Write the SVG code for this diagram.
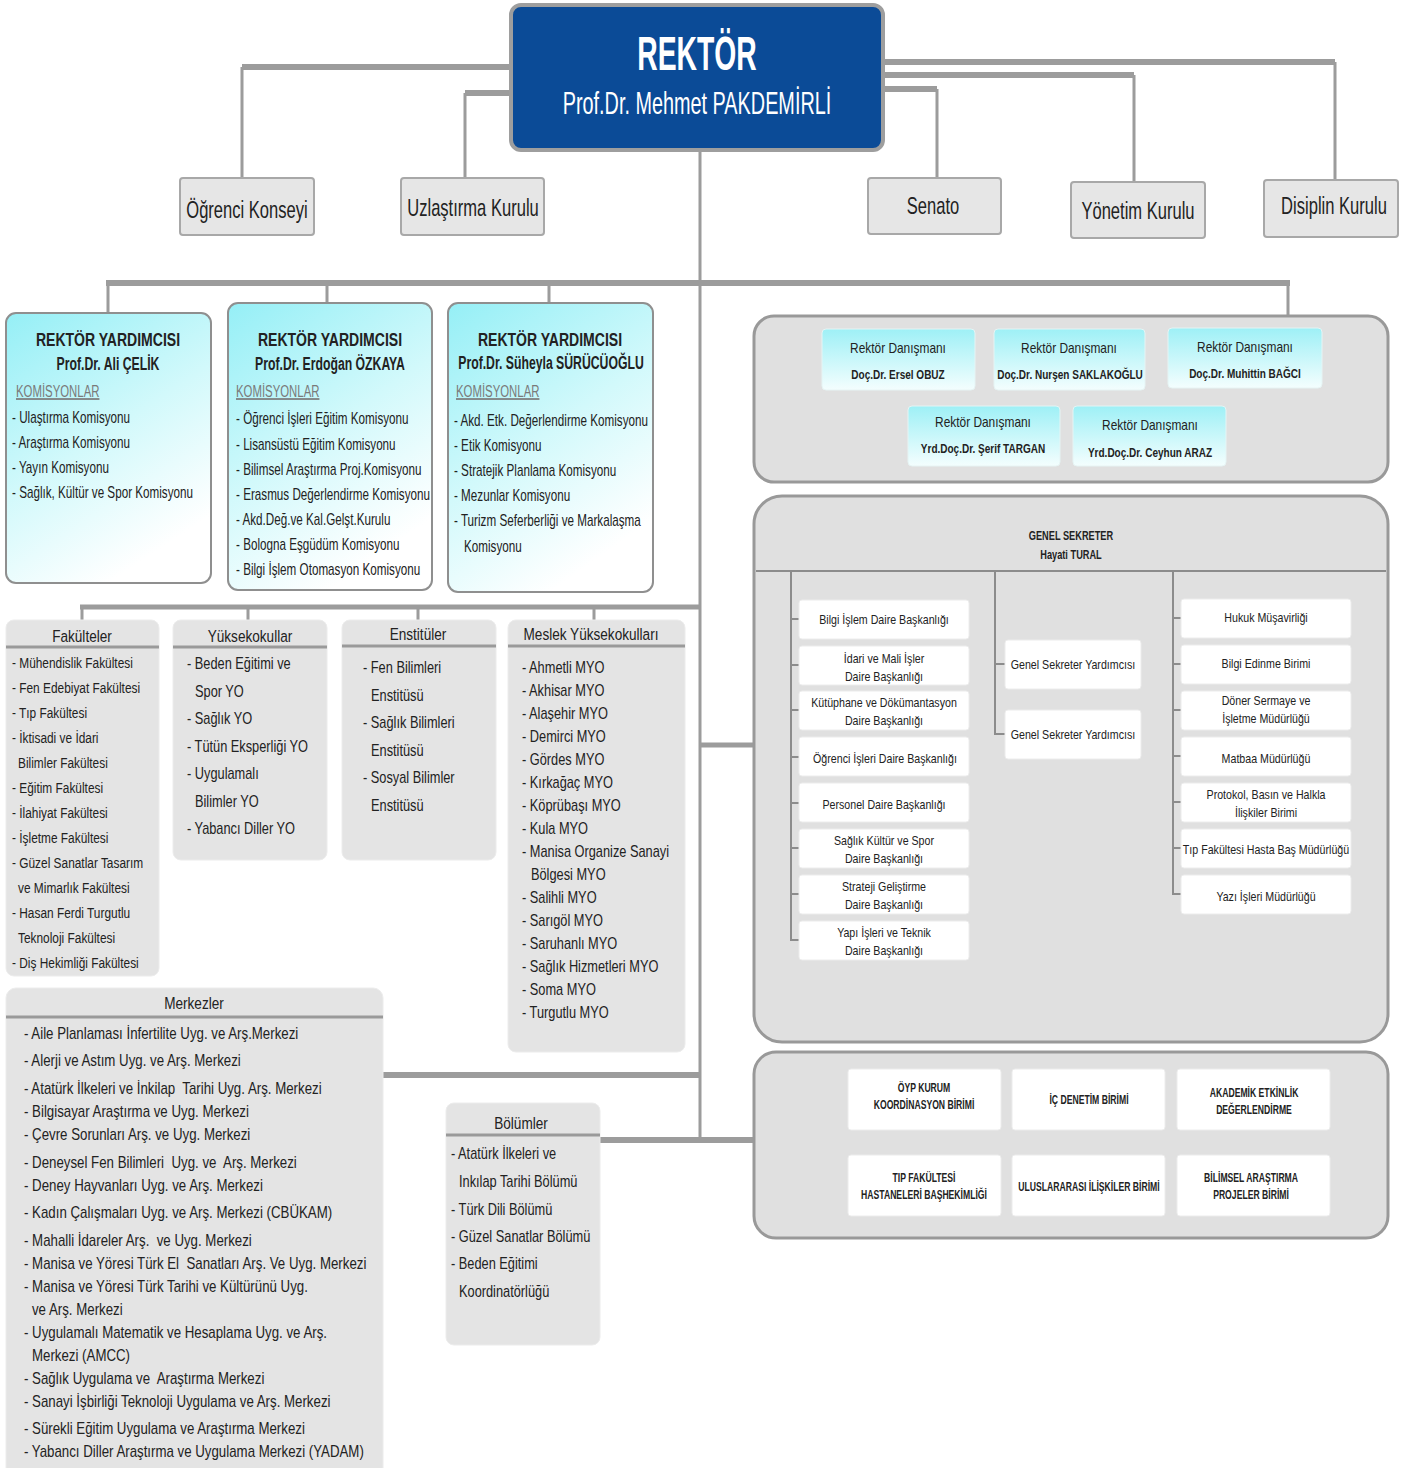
<svg xmlns="http://www.w3.org/2000/svg" width="1414" height="1468" viewBox="0 0 1414 1468">
<defs>
<linearGradient id="cy" x1="0" y1="0" x2="0.5" y2="1">
<stop offset="0" stop-color="#95eff6"/>
<stop offset="0.55" stop-color="#d2f9fb"/>
<stop offset="1" stop-color="#ffffff"/>
</linearGradient>
<linearGradient id="cy2" x1="0" y1="0" x2="0" y2="1">
<stop offset="0" stop-color="#9ef0f6"/>
<stop offset="1" stop-color="#f4fefe"/>
</linearGradient>
<style>
text{font-family:'Liberation Sans',Arial,sans-serif;fill:#222}
.s{transform-box:fill-box;transform-origin:left center}
.m{text-anchor:middle;transform-box:fill-box;transform-origin:center}
.rk{font-size:48px;font-weight:bold;fill:#fff;transform:scaleX(.59)}
.rn{font-size:32px;fill:#fff;transform:scaleX(.62)}
.l2{font-size:24px;transform:scaleX(.69)}
.vt{font-size:18px;font-weight:bold;transform:scaleX(.78)}
.vn{font-size:18px;font-weight:bold;transform:scaleX(.68)}
.vk{font-size:17px;fill:#7a7a7a;text-decoration:underline;transform:scaleX(.67)}
.vi{font-size:16px;transform:scaleX(.73)}
.ad{font-size:14px;transform:scaleX(.85)}
.an{font-size:13px;font-weight:bold;transform:scaleX(.77)}
.gh{font-size:13px;font-weight:bold;transform:scaleX(.71)}
.gc{font-size:13px;transform:scaleX(.82)}
.bc{font-size:12px;font-weight:bold;transform:scaleX(.72)}
.lh{font-size:17px;transform:scaleX(.8)}
.li{font-size:16px;transform:scaleX(.8)}
.lf{font-size:14.5px;transform:scaleX(.82)}
.lm{font-size:16px;transform:scaleX(.83)}
.pre{white-space:pre}
.cn{stroke:#9c9c9c;fill:none}
.box2{fill:#e6e6e6;stroke:#a8a8a8;stroke-width:2}
.vr{fill:url(#cy);stroke:#8f8f8f;stroke-width:2}
.cont{fill:#e0e0e0;stroke:#999;stroke-width:3}
.adv{fill:url(#cy2);stroke:#e6f4f4;stroke-width:1}
.card{fill:#fff;stroke:#ececec;stroke-width:1}
.lst{fill:#e4e4e4;stroke:#ececec;stroke-width:1}
.div{stroke:#9a9a9a;stroke-width:3}
.gl{stroke:#8c8c8c;stroke-width:2;fill:none}
</style>
</defs>
<rect width="1414" height="1468" fill="#fff"/>

<g id="connectors">
<path class="cn" stroke-width="6" d="M512,67 H242 M512,93 H465 M882,62 H1335 M882,75 H1134 M882,89 H937"/>
<path class="cn" stroke-width="3" d="M242,67 V178 M465,93 V178 M1335,62 V180 M1134,75 V182 M937,89 V178"/>
<path class="cn" stroke-width="3" d="M700,150 V1143"/>
<path class="cn" stroke-width="6" d="M106,283 H1290"/>
<path class="cn" stroke-width="3" d="M108,283 V313 M327,283 V303 M549,283 V303 M1288,283 V316"/>
<path class="cn" stroke-width="5" d="M80,607 H701"/>
<path class="cn" stroke-width="3" d="M82,607 V620 M248,607 V620 M418,607 V620 M594,607 V620"/>
<path class="cn" stroke-width="5" d="M700,745 H755"/>
<path class="cn" stroke-width="6" d="M383,1075 H701"/>
<path class="cn" stroke-width="6" d="M600,1140 H755"/>
</g>

<g id="rektor">
<rect x="511" y="5" width="372" height="145" rx="10" fill="#0b4b97" stroke="#9e9e9e" stroke-width="4"/>
<text class="m rk" x="697" y="70">REKTÖR</text>
<text class="m rn" x="697" y="114">Prof.Dr. Mehmet PAKDEMİRLİ</text>
</g>

<g id="ogrenci-konseyi">
<rect class="box2" x="180" y="178" width="134" height="57" rx="3"/>
<text class="m l2" x="247" y="218">Öğrenci Konseyi</text>
</g>
<g id="uzlastirma-kurulu">
<rect class="box2" x="401" y="178" width="143" height="57" rx="3"/>
<text class="m l2" x="473" y="216">Uzlaştırma Kurulu</text>
</g>
<g id="senato">
<rect class="box2" x="868" y="178" width="133" height="56" rx="3"/>
<text class="m l2" x="933" y="214">Senato</text>
</g>
<g id="yonetim-kurulu">
<rect class="box2" x="1071" y="182" width="134" height="56" rx="3"/>
<text class="m l2" x="1138" y="219">Yönetim Kurulu</text>
</g>
<g id="disiplin-kurulu">
<rect class="box2" x="1264" y="180" width="134" height="57" rx="3"/>
<text class="m l2" x="1334" y="214">Disiplin Kurulu</text>
</g>

<g id="rektor-yardimcisi-1">
<rect class="vr" x="6" y="313" width="205" height="270" rx="10"/>
<text class="m vt" x="108" y="346">REKTÖR YARDIMCISI</text>
<text class="m vn" x="108" y="370">Prof.Dr. Ali ÇELİK</text>
<text class="s vk" x="16" y="397">KOMİSYONLAR</text>
<text class="s vi" x="12" y="423">- Ulaştırma Komisyonu</text>
<text class="s vi" x="12" y="448">- Araştırma Komisyonu</text>
<text class="s vi" x="12" y="473">- Yayın Komisyonu</text>
<text class="s vi" x="12" y="498">- Sağlık, Kültür ve Spor Komisyonu</text>
</g>
<g id="rektor-yardimcisi-2">
<rect class="vr" x="228" y="303" width="204" height="287" rx="10"/>
<text class="m vt" x="330" y="346">REKTÖR YARDIMCISI</text>
<text class="m vn" x="330" y="370">Prof.Dr. Erdoğan ÖZKAYA</text>
<text class="s vk" x="236" y="397">KOMİSYONLAR</text>
<text class="s vi" x="236" y="424">- Öğrenci İşleri Eğitim Komisyonu</text>
<text class="s vi" x="236" y="450">- Lisansüstü Eğitim Komisyonu</text>
<text class="s vi" x="236" y="475">- Bilimsel Araştırma Proj.Komisyonu</text>
<text class="s vi" x="236" y="500">- Erasmus Değerlendirme Komisyonu</text>
<text class="s vi" x="236" y="525">- Akd.Değ.ve Kal.Gelşt.Kurulu</text>
<text class="s vi" x="236" y="550">- Bologna Eşgüdüm Komisyonu</text>
<text class="s vi" x="236" y="575">- Bilgi İşlem Otomasyon Komisyonu</text>
</g>
<g id="rektor-yardimcisi-3">
<rect class="vr" x="448" y="303" width="205" height="289" rx="10"/>
<text class="m vt" x="550" y="346">REKTÖR YARDIMCISI</text>
<text class="m vn" x="551" y="369">Prof.Dr. Süheyla SÜRÜCÜOĞLU</text>
<text class="s vk" x="456" y="397">KOMİSYONLAR</text>
<text class="s vi" x="454" y="426">- Akd. Etk. Değerlendirme Komisyonu</text>
<text class="s vi" x="454" y="451">- Etik Komisyonu</text>
<text class="s vi" x="454" y="476">- Stratejik Planlama Komisyonu</text>
<text class="s vi" x="454" y="501">- Mezunlar Komisyonu</text>
<text class="s vi" x="454" y="526">- Turizm Seferberliği ve Markalaşma</text>
<text class="s vi" x="464" y="552">Komisyonu</text>
</g>

<g id="rektor-danismanlari">
<rect class="cont" x="754" y="316" width="634" height="166" rx="20"/>
<rect class="adv" x="822" y="329" width="153" height="61" rx="4"/>
<text class="m ad" x="898" y="353">Rektör Danışmanı</text>
<text class="m an" x="898" y="379">Doç.Dr. Ersel OBUZ</text>
<rect class="adv" x="994" y="329" width="151" height="61" rx="4"/>
<text class="m ad" x="1069" y="353">Rektör Danışmanı</text>
<text class="m an" x="1070" y="379">Doç.Dr. Nurşen SAKLAKOĞLU</text>
<rect class="adv" x="1168" y="328" width="154" height="60" rx="4"/>
<text class="m ad" x="1245" y="352">Rektör Danışmanı</text>
<text class="m an" x="1245" y="378">Doç.Dr. Muhittin BAĞCI</text>
<rect class="adv" x="908" y="406" width="152" height="60" rx="4"/>
<text class="m ad" x="983" y="427">Rektör Danışmanı</text>
<text class="m an" x="983" y="453">Yrd.Doç.Dr. Şerif TARGAN</text>
<rect class="adv" x="1073" y="406" width="153" height="60" rx="4"/>
<text class="m ad" x="1150" y="430">Rektör Danışmanı</text>
<text class="m an" x="1150" y="457">Yrd.Doç.Dr. Ceyhun ARAZ</text>
</g>

<g id="genel-sekreter">
<rect class="cont" x="754" y="496" width="634" height="546" rx="28"/>
<path class="gl" d="M756,571 H1386"/>
<text class="m gh" x="1071" y="540">GENEL SEKRETER</text>
<text class="m gh" x="1071" y="559">Hayati TURAL</text>
<path class="gl" d="M791,571 V941 M791,619 H799 M791,665 H799 M791,710 H799 M791,757 H799 M791,803 H799 M791,848 H799 M791,894 H799 M791,940 H799"/>
<path class="gl" d="M995,571 V735 M995,664 H1005 M995,734 H1005"/>
<path class="gl" d="M1173,571 V895 M1173,618 H1181 M1173,664 H1181 M1173,710 H1181 M1173,756 H1181 M1173,802 H1181 M1173,848 H1181 M1173,894 H1181"/>
</g>

<g id="gs-daire-baskanliklari">
<rect class="card" x="799" y="600" width="170" height="39" rx="3"/>
<text class="m gc" x="884" y="624">Bilgi İşlem Daire Başkanlığı</text>
<rect class="card" x="799" y="646" width="170" height="39" rx="3"/>
<text class="m gc" x="884" y="663">İdari ve Mali İşler</text>
<text class="m gc" x="884" y="681">Daire Başkanlığı</text>
<rect class="card" x="799" y="691" width="170" height="39" rx="3"/>
<text class="m gc" x="884" y="707">Kütüphane ve Dökümantasyon</text>
<text class="m gc" x="884" y="725">Daire Başkanlığı</text>
<rect class="card" x="799" y="737" width="170" height="39" rx="3"/>
<text class="m gc" x="885" y="763">Öğrenci İşleri Daire Başkanlığı</text>
<rect class="card" x="799" y="783" width="170" height="39" rx="3"/>
<text class="m gc" x="884" y="809">Personel Daire Başkanlığı</text>
<rect class="card" x="799" y="829" width="170" height="39" rx="3"/>
<text class="m gc" x="884" y="845">Sağlık Kültür ve Spor</text>
<text class="m gc" x="884" y="863">Daire Başkanlığı</text>
<rect class="card" x="799" y="875" width="170" height="39" rx="3"/>
<text class="m gc" x="884" y="891">Strateji Geliştirme</text>
<text class="m gc" x="884" y="909">Daire Başkanlığı</text>
<rect class="card" x="799" y="921" width="170" height="39" rx="3"/>
<text class="m gc" x="884" y="937">Yapı İşleri ve Teknik</text>
<text class="m gc" x="884" y="955">Daire Başkanlığı</text>
</g>

<g id="gs-yardimcilari">
<rect class="card" x="1005" y="640" width="136" height="49" rx="3"/>
<text class="m gc" x="1073" y="669">Genel Sekreter Yardımcısı</text>
<rect class="card" x="1005" y="710" width="136" height="49" rx="3"/>
<text class="m gc" x="1073" y="739">Genel Sekreter Yardımcısı</text>
</g>

<g id="gs-birimler">
<rect class="card" x="1181" y="599" width="170" height="39" rx="3"/>
<text class="m gc" x="1266" y="622">Hukuk Müşavirliği</text>
<rect class="card" x="1181" y="645" width="170" height="39" rx="3"/>
<text class="m gc" x="1266" y="668">Bilgi Edinme Birimi</text>
<rect class="card" x="1181" y="691" width="170" height="39" rx="3"/>
<text class="m gc" x="1266" y="705">Döner Sermaye ve</text>
<text class="m gc" x="1266" y="723">İşletme Müdürlüğü</text>
<rect class="card" x="1181" y="737" width="170" height="39" rx="3"/>
<text class="m gc" x="1266" y="763">Matbaa Müdürlüğü</text>
<rect class="card" x="1181" y="783" width="170" height="39" rx="3"/>
<text class="m gc" x="1266" y="799">Protokol, Basın ve Halkla</text>
<text class="m gc" x="1266" y="817">İlişkiler Birimi</text>
<rect class="card" x="1181" y="829" width="170" height="39" rx="3"/>
<text class="m gc" x="1266" y="854">Tıp Fakültesi Hasta Baş Müdürlüğü</text>
<rect class="card" x="1181" y="875" width="170" height="39" rx="3"/>
<text class="m gc" x="1266" y="901">Yazı İşleri Müdürlüğü</text>
</g>

<g id="rektorluk-birimleri">
<rect class="cont" x="754" y="1052" width="634" height="186" rx="22"/>
<rect class="card" x="848" y="1069" width="153" height="61" rx="3"/>
<text class="m bc" x="924" y="1092">ÖYP KURUM</text>
<text class="m bc" x="924" y="1109">KOORDİNASYON BİRİMİ</text>
<rect class="card" x="1012" y="1069" width="153" height="61" rx="3"/>
<text class="m bc" x="1089" y="1104">İÇ DENETİM BİRİMİ</text>
<rect class="card" x="1177" y="1069" width="153" height="61" rx="3"/>
<text class="m bc" x="1254" y="1097">AKADEMİK ETKİNLİK</text>
<text class="m bc" x="1254" y="1114">DEĞERLENDİRME</text>
<rect class="card" x="848" y="1155" width="153" height="61" rx="3"/>
<text class="m bc" x="924" y="1182">TIP FAKÜLTESİ</text>
<text class="m bc" x="924" y="1199">HASTANELERİ BAŞHEKİMLİĞİ</text>
<rect class="card" x="1012" y="1155" width="153" height="61" rx="3"/>
<text class="m bc" x="1089" y="1191">ULUSLARARASI İLİŞKİLER BİRİMİ</text>
<rect class="card" x="1177" y="1155" width="153" height="61" rx="3"/>
<text class="m bc" x="1251" y="1182">BİLİMSEL ARAŞTIRMA</text>
<text class="m bc" x="1251" y="1199">PROJELER BİRİMİ</text>
</g>

<g id="fakulteler">
<rect class="lst" x="6" y="620" width="153" height="356" rx="8"/>
<path class="div" d="M6,647 H159"/>
<text class="m lh" x="82" y="642">Fakülteler</text>
<text class="s lf" x="12" y="668">- Mühendislik Fakültesi</text>
<text class="s lf" x="12" y="693">- Fen Edebiyat Fakültesi</text>
<text class="s lf" x="12" y="718">- Tıp Fakültesi</text>
<text class="s lf" x="12" y="743">- İktisadi ve İdari</text>
<text class="s lf" x="18" y="768">Bilimler Fakültesi</text>
<text class="s lf" x="12" y="793">- Eğitim Fakültesi</text>
<text class="s lf" x="12" y="818">- İlahiyat Fakültesi</text>
<text class="s lf" x="12" y="843">- İşletme Fakültesi</text>
<text class="s lf" x="12" y="868">- Güzel Sanatlar Tasarım</text>
<text class="s lf" x="18" y="893">ve Mimarlık Fakültesi</text>
<text class="s lf" x="12" y="918">- Hasan Ferdi Turgutlu</text>
<text class="s lf" x="18" y="943">Teknoloji Fakültesi</text>
<text class="s lf" x="12" y="968">- Diş Hekimliği Fakültesi</text>
</g>

<g id="yuksekokullar">
<rect class="lst" x="173" y="620" width="154" height="240" rx="8"/>
<path class="div" d="M173,647 H327"/>
<text class="m lh" x="250" y="642">Yüksekokullar</text>
<text class="s li" x="187" y="669">- Beden Eğitimi ve</text>
<text class="s li" x="195" y="697">Spor YO</text>
<text class="s li" x="187" y="724">- Sağlık YO</text>
<text class="s li" x="187" y="752">- Tütün Eksperliği YO</text>
<text class="s li" x="187" y="779">- Uygulamalı</text>
<text class="s li" x="195" y="807">Bilimler YO</text>
<text class="s li" x="187" y="834">- Yabancı Diller YO</text>
</g>

<g id="enstituler">
<rect class="lst" x="342" y="620" width="154" height="240" rx="8"/>
<path class="div" d="M342,646 H496"/>
<text class="m lh" x="418" y="640">Enstitüler</text>
<text class="s li" x="363" y="673">- Fen Bilimleri</text>
<text class="s li" x="371" y="701">Enstitüsü</text>
<text class="s li" x="363" y="728">- Sağlık Bilimleri</text>
<text class="s li" x="371" y="756">Enstitüsü</text>
<text class="s li" x="363" y="783">- Sosyal Bilimler</text>
<text class="s li" x="371" y="811">Enstitüsü</text>
</g>

<g id="meslek-yuksekokullari">
<rect class="lst" x="508" y="620" width="177" height="432" rx="8"/>
<path class="div" d="M508,646 H685"/>
<text class="m lh" x="591" y="640">Meslek Yüksekokulları</text>
<text class="s li" x="522" y="673">- Ahmetli MYO</text>
<text class="s li" x="522" y="696">- Akhisar MYO</text>
<text class="s li" x="522" y="719">- Alaşehir MYO</text>
<text class="s li" x="522" y="742">- Demirci MYO</text>
<text class="s li" x="522" y="765">- Gördes MYO</text>
<text class="s li" x="522" y="788">- Kırkağaç MYO</text>
<text class="s li" x="522" y="811">- Köprübaşı MYO</text>
<text class="s li" x="522" y="834">- Kula MYO</text>
<text class="s li" x="522" y="857">- Manisa Organize Sanayi</text>
<text class="s li" x="531" y="880">Bölgesi MYO</text>
<text class="s li" x="522" y="903">- Salihli MYO</text>
<text class="s li" x="522" y="926">- Sarıgöl MYO</text>
<text class="s li" x="522" y="949">- Saruhanlı MYO</text>
<text class="s li" x="522" y="972">- Sağlık Hizmetleri MYO</text>
<text class="s li" x="522" y="995">- Soma MYO</text>
<text class="s li" x="522" y="1018">- Turgutlu MYO</text>
</g>

<g id="merkezler">
<rect class="lst" x="6" y="988" width="377" height="500" rx="10"/>
<path class="div" d="M6,1017 H383"/>
<text class="m lh" x="194" y="1009">Merkezler</text>
<text class="s lm" x="24" y="1039">- Aile Planlaması İnfertilite Uyg. ve Arş.Merkezi</text>
<text class="s lm" x="24" y="1066">- Alerji ve Astım Uyg. ve Arş. Merkezi</text>
<text class="s lm pre" x="24" y="1094">- Atatürk İlkeleri ve İnkilap  Tarihi Uyg. Arş. Merkezi</text>
<text class="s lm" x="24" y="1117">- Bilgisayar Araştırma ve Uyg. Merkezi</text>
<text class="s lm" x="24" y="1140">- Çevre Sorunları Arş. ve Uyg. Merkezi</text>
<text class="s lm pre" x="24" y="1168">- Deneysel Fen Bilimleri  Uyg. ve  Arş. Merkezi</text>
<text class="s lm" x="24" y="1191">- Deney Hayvanları Uyg. ve Arş. Merkezi</text>
<text class="s lm" x="24" y="1218">- Kadın Çalışmaları Uyg. ve Arş. Merkezi (CBÜKAM)</text>
<text class="s lm pre" x="24" y="1246">- Mahalli İdareler Arş.  ve Uyg. Merkezi</text>
<text class="s lm pre" x="24" y="1269">- Manisa ve Yöresi Türk El  Sanatları Arş. Ve Uyg. Merkezi</text>
<text class="s lm" x="24" y="1292">- Manisa ve Yöresi Türk Tarihi ve Kültürünü Uyg.</text>
<text class="s lm" x="32" y="1315">ve Arş. Merkezi</text>
<text class="s lm" x="24" y="1338">- Uygulamalı Matematik ve Hesaplama Uyg. ve Arş.</text>
<text class="s lm" x="32" y="1361">Merkezi (AMCC)</text>
<text class="s lm pre" x="24" y="1384">- Sağlık Uygulama ve  Araştırma Merkezi</text>
<text class="s lm" x="24" y="1407">- Sanayi İşbirliği Teknoloji Uygulama ve Arş. Merkezi</text>
<text class="s lm" x="24" y="1434">- Sürekli Eğitim Uygulama ve Araştırma Merkezi</text>
<text class="s lm" x="24" y="1457">- Yabancı Diller Araştırma ve Uygulama Merkezi (YADAM)</text>
</g>

<g id="bolumler">
<rect class="lst" x="446" y="1103" width="154" height="242" rx="8"/>
<path class="div" d="M446,1135 H600"/>
<text class="m lh" x="521" y="1129">Bölümler</text>
<text class="s li" x="451" y="1159">- Atatürk İlkeleri ve</text>
<text class="s li" x="459" y="1187">Inkılap Tarihi Bölümü</text>
<text class="s li" x="451" y="1215">- Türk Dili Bölümü</text>
<text class="s li" x="451" y="1242">- Güzel Sanatlar Bölümü</text>
<text class="s li" x="451" y="1269">- Beden Eğitimi</text>
<text class="s li" x="459" y="1297">Koordinatörlüğü</text>
</g>
</svg>
